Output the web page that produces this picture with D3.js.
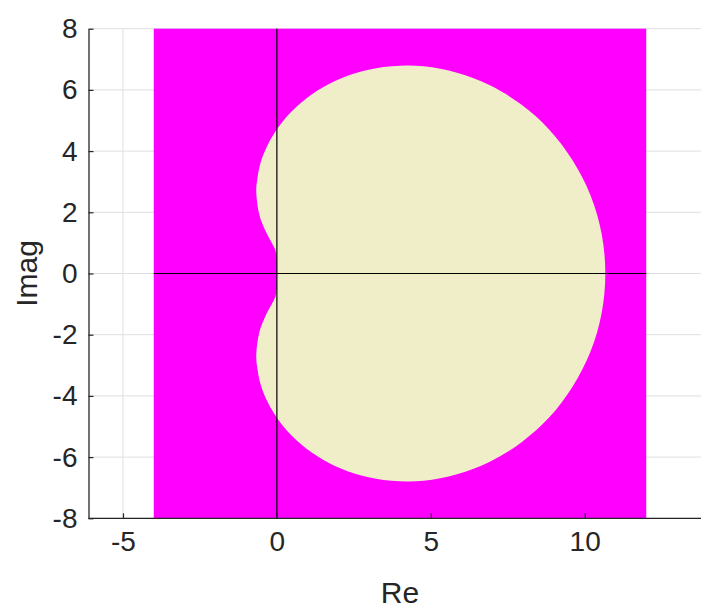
<!DOCTYPE html>
<html>
<head>
<meta charset="utf-8">
<script src="https://cdn.jsdelivr.net/npm/d3@7"></script>
<style>
  body { margin: 0; background: #fff; }
  svg { display: block; font-family: "Liberation Sans", Arial, Helvetica, sans-serif; }
</style>
</head>
<body>
<svg width="701" height="610"></svg>
<script>
// boundary of the stability region (upper half then lower half)
const boundaryRe = [0, 0.00, 0.00, -0.01, -0.03, -0.09, -0.21, -0.38, -0.57, -0.67, -0.63, -0.52, -0.30,
  0.04, 0.51, 1.13, 1.87, 2.74, 3.72, 4.77, 5.85, 6.92, 7.94, 8.85, 9.61, 10.19, 10.55, 10.67,
  10.55, 10.19, 9.61, 8.85, 7.94, 6.92, 5.85, 4.77, 3.72, 2.74, 1.87, 1.13, 0.51, 0.04,
  -0.30, -0.52, -0.63, -0.67, -0.57, -0.38, -0.21, -0.09, -0.03, -0.01, 0.00, 0.00];
const boundaryIm = [0, 0.17, 0.35, 0.52, 0.69, 0.86, 1.08, 1.41, 1.92, 2.67, 3.13, 3.65, 4.20,
  4.77, 5.33, 5.85, 6.28, 6.60, 6.77, 6.77, 6.56, 6.15, 5.52, 4.70, 3.69, 2.55, 1.30, 0,
  -1.30, -2.55, -3.69, -4.70, -5.52, -6.15, -6.56, -6.77, -6.77, -6.60, -6.28, -5.85, -5.33, -4.77,
  -4.20, -3.65, -3.13, -2.67, -1.92, -1.41, -1.08, -0.86, -0.69, -0.52, -0.35, -0.17];

// plotted window (the magenta box)
const boxRe = [-4, 12];
const boxIm = [-8, 8];

const xTicks = [-5, 0, 5, 10];
const yTicks = [-8, -6, -4, -2, 0, 2, 4, 6, 8];

const plotLeft = 88.5, plotTop = 28.7, plotBottom = 518.3;

const svg = d3.select("svg");

const x = d3.scaleLinear().domain([-6.12, 14.12]).range([plotLeft, 711.5]);
const y = d3.scaleLinear().domain([-8, 8]).range([plotBottom, plotTop]);

const axisColor = "#262626";

// grid
svg.append("g").selectAll("line")
  .data(xTicks)
  .enter().append("line")
    .attr("x1", d => x(d)).attr("x2", d => x(d))
    .attr("y1", plotTop).attr("y2", plotBottom)
    .attr("stroke", "#dfdfdf").attr("stroke-width", 1);

svg.append("g").selectAll("line")
  .data(yTicks)
  .enter().append("line")
    .attr("x1", plotLeft).attr("x2", 701)
    .attr("y1", d => y(d)).attr("y2", d => y(d))
    .attr("stroke", "#dfdfdf").attr("stroke-width", 1);

// magenta box
svg.append("rect")
  .attr("x", x(boxRe[0]))
  .attr("y", y(boxIm[1]))
  .attr("width", x(boxRe[1]) - x(boxRe[0]))
  .attr("height", y(boxIm[0]) - y(boxIm[1]))
  .attr("fill", "#ff00ff");

// region inside the boundary
const pts = boundaryRe.map((d, i) => [d, boundaryIm[i]]);
const line = d3.line()
  .x(d => x(d[0]))
  .y(d => y(d[1]))
  .curve(d3.curveCatmullRomClosed.alpha(0.5));

svg.append("path")
  .attr("d", line(pts))
  .attr("fill", "#f0eec8");

// real and imaginary axes
svg.append("line")
  .attr("x1", x(boxRe[0])).attr("x2", x(boxRe[1]))
  .attr("y1", y(0)).attr("y2", y(0))
  .attr("stroke", "#000").attr("stroke-width", 1.2);
svg.append("line")
  .attr("x1", x(0)).attr("x2", x(0))
  .attr("y1", y(boxIm[0])).attr("y2", y(boxIm[1]))
  .attr("stroke", "#000").attr("stroke-width", 1.2);

// plain hyphen for negatives, like the original
const fmt = d => String(d);

// x axis
const xAxis = svg.append("g")
  .attr("transform", "translate(0," + plotBottom + ")")
  .call(d3.axisBottom(x).tickValues(xTicks).tickFormat(fmt)
    .tickSizeInner(-5).tickSizeOuter(0).tickPadding(13));
xAxis.select(".domain").attr("d", "M" + plotLeft + ",0H701");

// y axis
const yAxis = svg.append("g")
  .attr("transform", "translate(" + plotLeft + ",0)")
  .call(d3.axisLeft(y).tickValues(yTicks).tickFormat(fmt)
    .tickSizeInner(-5).tickSizeOuter(0).tickPadding(11));

svg.selectAll(".domain").attr("stroke", axisColor).attr("stroke-width", 1.3);
svg.selectAll(".tick line").attr("stroke", axisColor).attr("stroke-width", 1.2);
svg.selectAll(".tick text")
  .attr("fill", axisColor)
  .style("font-size", "28px")
  .style("font-family", "'Liberation Sans', Arial, sans-serif");

// axis labels
svg.append("text")
  .attr("x", x(4))
  .attr("y", 603)
  .attr("text-anchor", "middle")
  .attr("fill", axisColor)
  .style("font-size", "30px")
  .text("Re");

svg.append("text")
  .attr("transform", "translate(37," + y(0) + ") rotate(-90)")
  .attr("text-anchor", "middle")
  .attr("fill", axisColor)
  .style("font-size", "30px")
  .text("Imag");
</script>
</body>
</html>
